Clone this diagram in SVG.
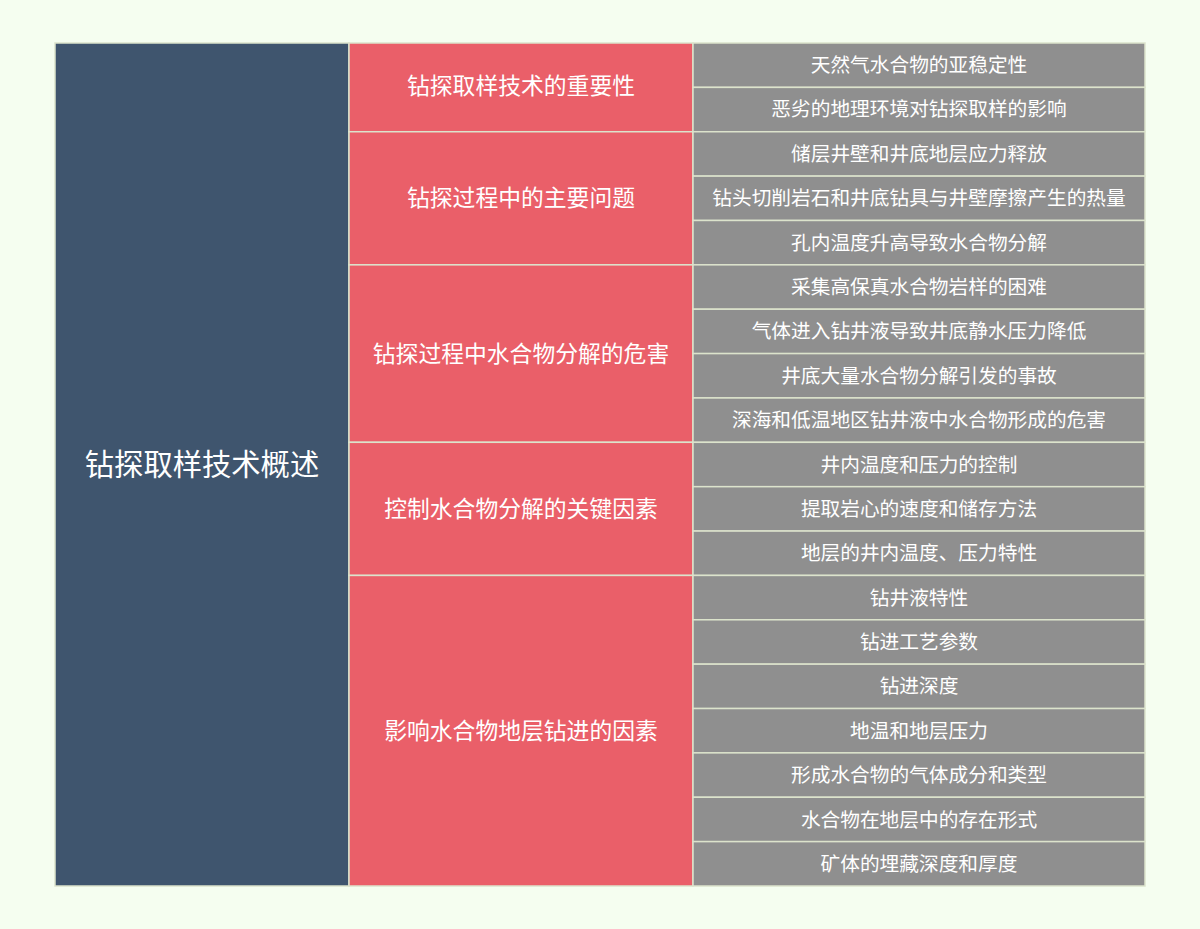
<svg xmlns="http://www.w3.org/2000/svg" width="1200" height="929" viewBox="0 0 1200 929">
<style>
.bg{fill:#F5FEF0}
.root{fill:#3F556E;stroke:#DCE3CC;stroke-width:1.5}
.mid{fill:#EA5F69;stroke:#DCE3CC;stroke-width:1.5}
.leaf{fill:#8F8F8F;stroke:#DCE3CC;stroke-width:1.5}
text{font-family:"Noto Sans CJK SC","Noto Sans",sans-serif;fill:#FFFFFF;text-anchor:middle;dominant-baseline:central}
.t0{font-size:29.3px}
.t1{font-size:22.8px}
.t2{font-size:19.7px}
</style>
<rect class="bg" x="0" y="0" width="1200" height="929"/>
<g id="root"><rect class="root" x="55" y="43" width="294" height="843"/><text class="t0" x="202" y="462">钻探取样技术概述</text></g>
<g id="g1"><rect class="mid" x="349" y="43" width="344" height="88.74"/><text class="t1" x="521" y="84.5">钻探取样技术的重要性</text></g>
<g id="g2"><rect class="mid" x="349" y="131.74" width="344" height="133.1"/><text class="t1" x="521" y="196">钻探过程中的主要问题</text></g>
<g id="g3"><rect class="mid" x="349" y="264.84" width="344" height="177.47"/><text class="t1" x="521" y="352">钻探过程中水合物分解的危害</text></g>
<g id="g4"><rect class="mid" x="349" y="442.31" width="344" height="133.1"/><text class="t1" x="521" y="507">控制水合物分解的关键因素</text></g>
<g id="g5"><rect class="mid" x="349" y="575.42" width="344" height="310.58"/><text class="t1" x="521" y="729">影响水合物地层钻进的因素</text></g>
<g id="leaves">
<g id="l0"><rect class="leaf" x="693" y="43" width="452" height="44.37"/><text class="t2" x="919" y="63">天然气水合物的亚稳定性</text></g>
<g id="l1"><rect class="leaf" x="693" y="87.37" width="452" height="44.37"/><text class="t2" x="919" y="107">恶劣的地理环境对钻探取样的影响</text></g>
<g id="l2"><rect class="leaf" x="693" y="131.74" width="452" height="44.37"/><text class="t2" x="919" y="152">储层井壁和井底地层应力释放</text></g>
<g id="l3"><rect class="leaf" x="693" y="176.11" width="452" height="44.37"/><text class="t2" x="919" y="196">钻头切削岩石和井底钻具与井壁摩擦产生的热量</text></g>
<g id="l4"><rect class="leaf" x="693" y="220.47" width="452" height="44.37"/><text class="t2" x="919" y="241">孔内温度升高导致水合物分解</text></g>
<g id="l5"><rect class="leaf" x="693" y="264.84" width="452" height="44.37"/><text class="t2" x="919" y="285">采集高保真水合物岩样的困难</text></g>
<g id="l6"><rect class="leaf" x="693" y="309.21" width="452" height="44.37"/><text class="t2" x="919" y="329">气体进入钻井液导致井底静水压力降低</text></g>
<g id="l7"><rect class="leaf" x="693" y="353.58" width="452" height="44.37"/><text class="t2" x="919" y="374">井底大量水合物分解引发的事故</text></g>
<g id="l8"><rect class="leaf" x="693" y="397.95" width="452" height="44.37"/><text class="t2" x="919" y="418">深海和低温地区钻井液中水合物形成的危害</text></g>
<g id="l9"><rect class="leaf" x="693" y="442.31" width="452" height="44.37"/><text class="t2" x="919" y="463">井内温度和压力的控制</text></g>
<g id="l10"><rect class="leaf" x="693" y="486.68" width="452" height="44.37"/><text class="t2" x="919" y="507">提取岩心的速度和储存方法</text></g>
<g id="l11"><rect class="leaf" x="693" y="531.05" width="452" height="44.37"/><text class="t2" x="919" y="551">地层的井内温度、压力特性</text></g>
<g id="l12"><rect class="leaf" x="693" y="575.42" width="452" height="44.37"/><text class="t2" x="919" y="596">钻井液特性</text></g>
<g id="l13"><rect class="leaf" x="693" y="619.79" width="452" height="44.37"/><text class="t2" x="919" y="640">钻进工艺参数</text></g>
<g id="l14"><rect class="leaf" x="693" y="664.16" width="452" height="44.37"/><text class="t2" x="919" y="684">钻进深度</text></g>
<g id="l15"><rect class="leaf" x="693" y="708.53" width="452" height="44.37"/><text class="t2" x="919" y="729">地温和地层压力</text></g>
<g id="l16"><rect class="leaf" x="693" y="752.89" width="452" height="44.37"/><text class="t2" x="919" y="773">形成水合物的气体成分和类型</text></g>
<g id="l17"><rect class="leaf" x="693" y="797.26" width="452" height="44.37"/><text class="t2" x="919" y="818">水合物在地层中的存在形式</text></g>
<g id="l18"><rect class="leaf" x="693" y="841.63" width="452" height="44.37"/><text class="t2" x="919" y="862">矿体的埋藏深度和厚度</text></g>
</g>
<g id="connectors"></g>
</svg>
